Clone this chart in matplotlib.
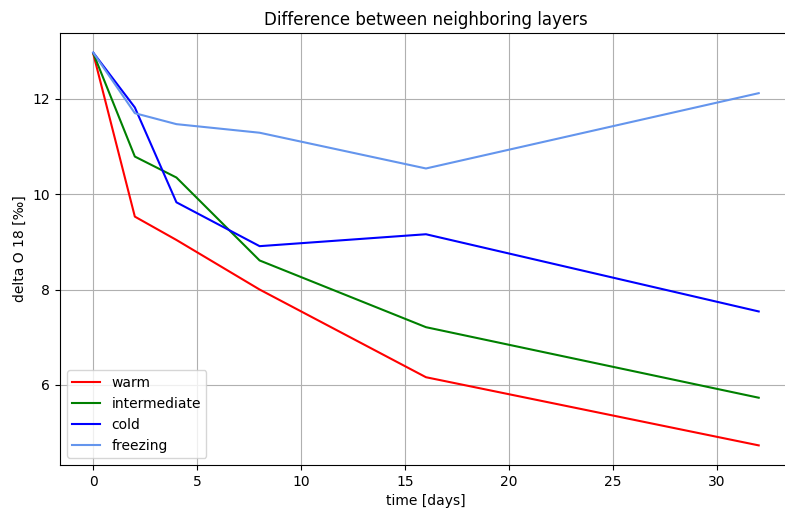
import matplotlib
matplotlib.use("Agg")
import matplotlib.pyplot as plt

# time points (days)
days = [0, 2, 4, 8, 16, 32]

# delta O 18 difference between neighbouring layers
warm = [12.95, 9.53, 9.04, 8.0, 6.16, 4.73]
intermediate = [12.96, 10.79, 10.35, 8.61, 7.21, 5.73]
cold = [12.97, 11.82, 9.83, 8.91, 9.16, 7.54]
freezing = [12.97, 11.70, 11.47, 11.29, 10.54, 12.12]

fig = plt.figure(figsize=(7.85, 5.08), dpi=100)
# right spine sits just past the image edge in the reference
ax = fig.add_axes([0.0764, 0.0846, 0.9325, 0.8504])

ax.plot(days, warm, color="red", label="warm")
ax.plot(days, intermediate, color="green", label="intermediate")
ax.plot(days, cold, color="blue", label="cold")
ax.plot(days, freezing, color="cornflowerblue", label="freezing")

ax.set_title("Difference between neighboring layers")
ax.set_xlabel("time [days]")
ax.set_ylabel("delta O 18 [‰]")
ax.grid(True)
ax.legend(loc="lower left")

fig.savefig("out.png", dpi=100)
